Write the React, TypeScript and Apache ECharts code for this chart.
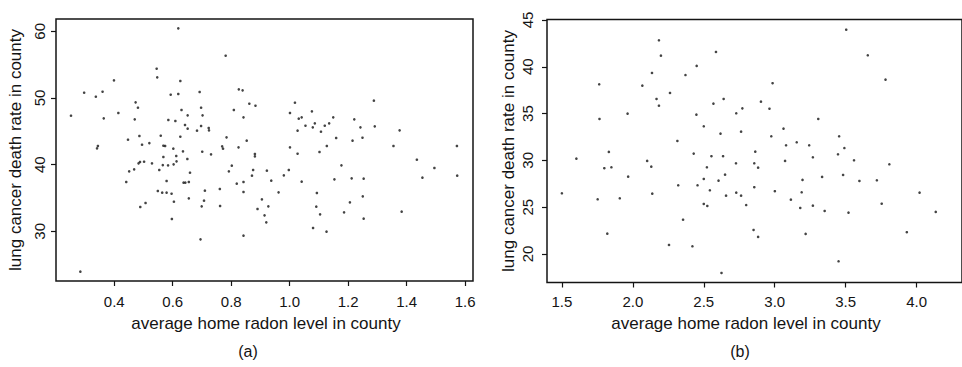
import React, { useEffect, useRef } from "react";
import * as echarts from "echarts";

// Panel (a): average home radon level vs lung cancer death rate
const radonA = [
  0.619, 0.781, 0.545, 0.547, 0.399, 0.626, 0.297, 0.36, 0.337, 0.593, 0.619, 0.692, 0.826, 0.839, 0.862, 0.883,
  0.473, 0.481, 0.252, 0.364, 0.414, 0.47, 0.585, 0.609, 0.63, 0.651, 0.697, 0.702, 0.809, 0.842, 0.642, 0.651,
  0.697, 0.683, 0.723, 0.724, 0.486, 0.447, 0.559, 0.626, 0.784, 0.853, 0.495, 0.52, 0.568, 0.574, 0.602, 0.635,
  0.701, 0.731, 0.769, 0.772, 0.825, 0.881, 0.881, 0.344, 0.341, 0.568, 0.612, 0.65,
  0.488, 0.483, 0.502, 0.529, 0.584, 0.566, 0.603, 0.613, 0.451, 0.468, 0.441, 0.554, 0.579, 0.659, 0.637, 0.643,
  0.655, 0.549, 0.564, 0.579, 0.596, 0.604, 0.507, 0.489, 0.597, 0.655, 0.699, 0.707, 0.71, 0.761, 0.762, 0.695,
  0.792, 0.802, 0.819, 0.842, 0.842, 0.871, 0.875, 0.89, 0.842, 0.284,
  1.018, 1.288, 1.001, 1.076, 1.031, 1.041, 1.149, 1.221, 1.086, 1.054, 1.079, 1.135, 1.12, 1.107, 1.027, 1.242,
  1.291, 1.376, 1.159, 1.249, 1.215, 1.001, 1.127, 1.355, 1.572, 1.027, 1.102, 1.435,
  1.495, 1.573, 1.454, 0.922, 0.937, 0.98, 0.997, 1.041, 1.177, 1.153, 1.212, 1.253, 1.25, 1.206, 1.186, 1.253,
  0.962, 0.905, 0.927, 0.914, 0.92, 1.093, 1.091, 1.104, 1.08, 1.126, 1.383,
];
const deathA = [
  60.45, 56.34, 54.39, 53.1, 52.65, 52.55, 50.79, 50.94, 50.19, 50.49, 50.6, 50.9, 51.3, 51.15, 49.14, 48.84,
  49.35, 48.54, 47.34, 46.95, 47.75, 46.8, 46.7, 46.55, 48.2, 47.4, 48.54, 47.4, 48.2, 47.1, 45.95, 45.4,
  45.8, 45.1, 45.5, 45.15, 44.3, 43.74, 44.34, 44.19, 44.1, 43.6, 42.99, 43.24, 42.84, 42.8, 42.4, 42.0,
  41.94, 41.55, 42.75, 42.4, 42.6, 41.6, 41.25, 42.8, 42.45, 41.15, 41.3, 40.85,
  40.4, 40.2, 40.44, 40.2, 39.9, 39.94, 40.05, 40.5, 39.0, 39.3, 37.4, 39.2, 37.55, 38.79, 37.3, 37.3,
  37.4, 36.05, 35.8, 35.8, 35.64, 34.44, 34.25, 33.65, 31.85, 34.95, 33.75, 34.6, 36.1, 36.35, 33.8, 28.8,
  39.0, 39.85, 37.15, 37.4, 35.9, 38.35, 39.2, 33.35, 29.35, 23.95,
  49.29, 49.6, 47.75, 48.0, 46.9, 47.1, 47.1, 46.8, 46.2, 45.84, 45.6, 46.2, 45.84, 44.94, 45.1, 45.6,
  45.75, 45.15, 44.0, 44.04, 43.6, 42.6, 42.8, 42.8, 42.8, 41.64, 41.9, 40.74,
  39.5, 38.35, 38.05, 39.1, 37.6, 38.4, 39.2, 37.45, 39.9, 37.8, 37.95, 37.9, 35.25, 34.35, 32.85, 31.9,
  35.85, 34.8, 33.75, 32.4, 31.35, 35.75, 33.7, 32.55, 30.5, 29.95, 32.95,
];

// Panel (b)
const radonB = [
  2.184, 2.198, 2.586, 2.45, 2.135, 2.371, 1.763, 2.067, 2.262, 2.167, 2.64, 2.184, 2.568, 1.963, 2.448, 1.765,
  2.5, 2.618, 2.314, 1.831, 2.429,
  1.602, 2.101, 1.799, 1.849, 2.13, 1.967, 2.522, 2.554, 2.636, 2.65, 2.5, 2.604, 2.32, 2.456, 2.543, 1.5,
  2.137, 2.657, 1.752, 1.908, 2.5, 2.525, 2.354, 1.82, 2.255, 2.42, 2.625,
  3.504, 3.656, 3.781, 2.985, 2.903, 2.772, 2.963, 2.729, 3.307, 2.763, 3.062, 2.976, 3.155, 3.08, 3.243, 3.454,
  3.491, 2.863, 3.446,
  3.269, 3.559, 3.808, 2.727, 2.856, 2.883, 3.073, 3.334, 3.482, 3.196, 3.597, 3.72, 2.856, 3.001, 3.19, 2.729,
  2.763, 2.799, 3.114, 3.18, 3.269, 3.352, 3.52, 3.754, 4.021, 4.135, 2.851, 2.883, 3.218, 3.931, 3.45,
];
const deathB = [
  42.83, 41.19, 41.58, 40.09, 39.34, 39.12, 38.13, 37.98, 37.2, 36.56, 36.56, 35.84, 36.06, 34.99, 34.88, 34.42,
  33.64, 32.85, 32.07, 30.9, 30.72,
  30.18, 29.94, 29.16, 29.26, 29.33, 28.26, 29.26, 30.44, 30.44, 28.47, 28.01, 27.83, 27.34, 27.34, 26.8, 26.48,
  26.44, 26.23, 25.84, 25.95, 25.34, 25.13, 23.66, 22.17, 20.96, 20.82, 17.97,
  43.96, 41.23, 38.62, 38.24, 36.27, 35.56, 35.52, 35.03, 34.42, 33.07, 33.39, 32.57, 31.93, 31.61, 31.61, 32.57,
  31.32, 30.93, 30.65,
  30.33, 30.01, 29.58, 29.69, 29.69, 29.22, 29.94, 28.23, 28.44, 27.91, 27.8, 27.87, 27.13, 26.7, 26.59, 26.55,
  26.23, 25.23, 25.8, 24.91, 25.16, 24.59, 24.41, 25.37, 26.55, 24.49, 22.56, 21.82, 22.14, 22.32, 19.22,
];

const xTicksA = [0.4, 0.6, 0.8, 1.0, 1.2, 1.4, 1.6];
const yTicksA = [30, 40, 50, 60];
const xTicksB = [1.5, 2.0, 2.5, 3.0, 3.5, 4.0];
const yTicksB = [20, 25, 30, 35, 40, 45];

const xTitle = "average home radon level in county";
const yTitle = "lung cancer death rate in county";
const panelLabels = ["(a)", "(b)"];

const FONT = "'Liberation Sans', Arial, Helvetica, sans-serif";
const INK = "#141414";

function xAxisCfg(grid: number, min: number, max: number, ticks: number[], margin: number) {
  return {
    gridIndex: grid,
    type: "value",
    min,
    max,
    splitLine: { show: false },
    axisLine: { show: false },
    axisTick: { show: true, customValues: ticks, length: 5, lineStyle: { color: INK, width: 1.2 } },
    axisLabel: {
      customValues: ticks,
      formatter: (v: number) => v.toFixed(1),
      margin,
      fontSize: 15,
      color: INK,
      fontFamily: FONT,
    },
  };
}

function yAxisCfg(grid: number, min: number, max: number, ticks: number[], margin: number) {
  return {
    gridIndex: grid,
    type: "value",
    min,
    max,
    splitLine: { show: false },
    axisLine: { show: false },
    axisTick: { show: true, customValues: ticks, length: 5, lineStyle: { color: INK, width: 1.2 } },
    axisLabel: {
      customValues: ticks,
      formatter: (v: number) => String(v),
      rotate: 90,
      margin,
      fontSize: 15,
      color: INK,
      fontFamily: FONT,
    },
  };
}

export default function App() {
  const ref = useRef<HTMLDivElement>(null);
  useEffect(() => {
    if (!ref.current) return;
    const chart = echarts.init(ref.current, undefined, { renderer: "svg" });
    const dataA = radonA.map((x, i) => [x, deathA[i]]);
    const dataB = radonB.map((x, i) => [x, deathB[i]]);
    chart.setOption({
      animation: false,
      backgroundColor: "#ffffff",
      grid: [
        { left: 56, top: 19, width: 417, height: 262, show: true, borderColor: INK, borderWidth: 1.5 },
        { left: 547, top: 19.5, width: 430, height: 263, show: true, borderColor: INK, borderWidth: 1.5 },
      ],
      xAxis: [
        xAxisCfg(0, 0.2007, 1.627, xTicksA, 13),
        xAxisCfg(1, 1.395, 4.32, xTicksB, 11.5),
      ],
      yAxis: [
        yAxisCfg(0, 22.55, 61.85, yTicksA, 9),
        yAxisCfg(1, 16.95, 45.05, yTicksB, 12),
      ],
      series: [
        {
          type: "scatter",
          xAxisIndex: 0,
          yAxisIndex: 0,
          data: dataA,
          symbol: "circle",
          symbolSize: 2.6,
          itemStyle: { color: INK },
          silent: true,
        },
        {
          type: "scatter",
          xAxisIndex: 1,
          yAxisIndex: 1,
          data: dataB,
          symbol: "circle",
          symbolSize: 2.6,
          itemStyle: { color: INK },
          silent: true,
        },
      ],
      graphic: [
        {
          type: "text",
          x: 15,
          y: 150,
          rotation: Math.PI / 2,
          style: { text: yTitle, fontSize: 17, fontFamily: FONT, fill: INK, align: "center", verticalAlign: "middle" },
        },
        {
          type: "text",
          x: 508,
          y: 151,
          rotation: Math.PI / 2,
          style: { text: yTitle, fontSize: 17, fontFamily: FONT, fill: INK, align: "center", verticalAlign: "middle" },
        },
        {
          type: "text",
          x: 266,
          y: 323,
          style: { text: xTitle, fontSize: 17, fontFamily: FONT, fill: INK, align: "center", verticalAlign: "middle" },
        },
        {
          type: "text",
          x: 746,
          y: 323,
          style: { text: xTitle, fontSize: 17, fontFamily: FONT, fill: INK, align: "center", verticalAlign: "middle" },
        },
        {
          type: "text",
          x: 248,
          y: 351,
          style: { text: panelLabels[0], fontSize: 16, fontFamily: FONT, fill: INK, align: "center", verticalAlign: "middle" },
        },
        {
          type: "text",
          x: 740,
          y: 351,
          style: { text: panelLabels[1], fontSize: 16, fontFamily: FONT, fill: INK, align: "center", verticalAlign: "middle" },
        },
      ],
    });
    return () => chart.dispose();
  }, []);
  return (
    <div
      ref={ref}
      style={{ position: "absolute", left: 0, top: 0, width: 962, height: 367, background: "#fff" }}
    />
  );
}
